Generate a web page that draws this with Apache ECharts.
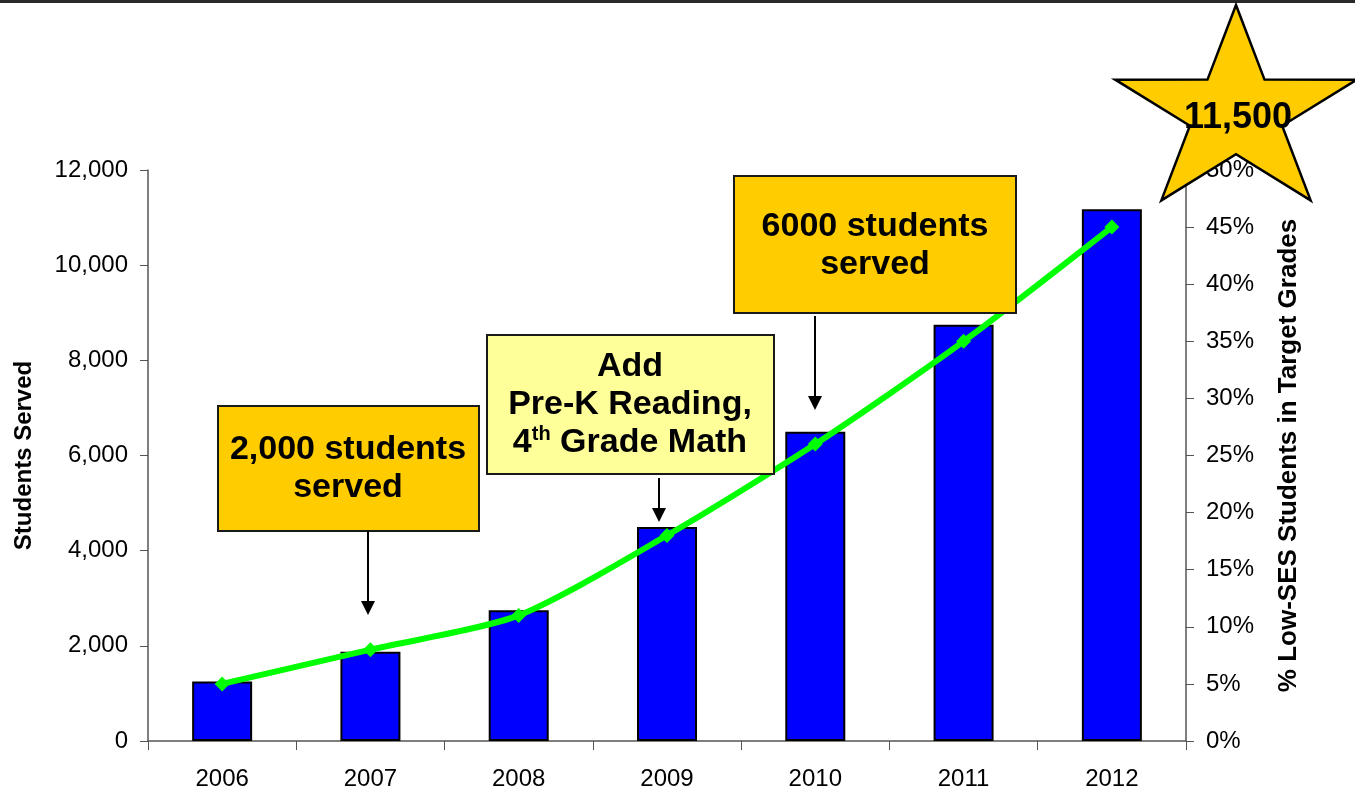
<!DOCTYPE html>
<html><head><meta charset="utf-8">
<script src="https://cdn.jsdelivr.net/npm/echarts@6/dist/echarts.min.js"></script>
<style>html,body{margin:0;padding:0;background:#fff}#c{width:1355px;height:793px}</style>
</head><body><div id="c"></div>
<script>
// ---- data ----
const years = ['2006', '2007', '2008', '2009', '2010', '2011', '2012'];
const studentsServed = [1250, 1875, 2750, 4500, 6500, 8750, 11175];
const lowSesPct = [5, 8, 11, 18, 26, 35, 45];
const leftAxisRange = [0, 12000, 2000];
const rightAxisRange = [0, 50, 5];
const leftAxisName = 'Students Served';
const rightAxisName = '% Low-SES Students in Target Grades';
const starLabel = '11,500';

const FONT = "'Liberation Sans', Arial, Helvetica, sans-serif";
const chart = echarts.init(document.getElementById('c'), null, { renderer: 'canvas' });

function starPoints(cx, cy, rx, ry, inner) {
  const pts = [];
  for (let i = 0; i < 10; i++) {
    const a = (-90 + i * 36) * Math.PI / 180;
    const r = i % 2 === 0 ? 1 : inner;
    pts.push([cx + rx * r * Math.cos(a), cy + ry * r * Math.sin(a)]);
  }
  return pts;
}

function box(x, y, w, h, fill) {
  return { type: 'rect', z: 50, shape: { x: x, y: y, width: w, height: h },
    style: { fill: fill, stroke: '#1a1a1a', lineWidth: 2 } };
}
function boxText(cx, cy, text, extra) {
  return { type: 'text', z: 51, x: cx, y: cy,
    style: Object.assign({ text: text, font: 'bold 34px ' + FONT, fill: '#000',
      align: 'center', verticalAlign: 'middle', lineHeight: 38 }, extra || {}) };
}
function arrow(x, y1, y2) {
  return [
    { type: 'line', z: 50, shape: { x1: x, y1: y1, x2: x, y2: y2 - 12 }, style: { stroke: '#000', lineWidth: 2 } },
    { type: 'polygon', z: 50, shape: { points: [[x - 7, y2 - 14], [x + 7, y2 - 14], [x, y2]] }, style: { fill: '#000' } }
  ];
}

const graphics = [
  { type: 'rect', z: 60, shape: { x: 0, y: 0, width: 1355, height: 3 }, style: { fill: '#2a2a2a' } },
  box(218, 406, 261, 125, '#FFCC00'),
  boxText(348, 469, '2,000 students\nserved'),
  ...arrow(368, 531, 615),
  box(487, 335, 287, 139, '#FFFF99'),
  boxText(630, 405, 'Add\nPre-K Reading,\n{b|4}{sup|th}{b| Grade Math}', {
    rich: {
      b: { font: 'bold 34px ' + FONT, fill: '#000', lineHeight: 38 },
      sup: { font: 'bold 20px ' + FONT, fill: '#000', lineHeight: 22, verticalAlign: 'top' }
    }
  }),
  ...arrow(659, 478, 522),
  box(734, 176, 282, 137, '#FFCC00'),
  boxText(875, 246, '6000 students\nserved', { textShadowColor: '#ffffff', textShadowOffsetX: 2, textShadowOffsetY: 2, textShadowBlur: 0 }),
  ...arrow(815, 316, 410),
  { type: 'polygon', z: 70, shape: { points: starPoints(1236, 113, 127, 108, 0.382) },
    style: { fill: '#FFCC00', stroke: '#000', lineWidth: 2.5 } },
  { type: 'text', z: 71, x: 1238, y: 118,
    style: { text: starLabel, font: 'bold 36px ' + FONT, fill: '#000', align: 'center', verticalAlign: 'middle' } }
];

const option = {
  animation: false,
  backgroundColor: '#ffffff',
  textStyle: { fontFamily: FONT },
  grid: { left: 148, right: 169, top: 170, bottom: 52, containLabel: false },
  xAxis: {
    type: 'category', data: years, boundaryGap: true,
    axisLine: { lineStyle: { color: '#555', width: 1.5 } },
    axisTick: { show: true, alignWithLabel: false, length: 9, lineStyle: { color: '#555' } },
    axisLabel: { color: '#000', fontSize: 24, margin: 26, fontFamily: FONT }
  },
  yAxis: [
    {
      type: 'value', min: leftAxisRange[0], max: leftAxisRange[1], interval: leftAxisRange[2],
      name: leftAxisName, nameLocation: 'middle', nameGap: 112,
      nameTextStyle: { fontSize: 24, fontWeight: 'bold', color: '#000', fontFamily: FONT },
      axisLine: { show: true, lineStyle: { color: '#555', width: 1.5 } },
      axisTick: { show: true, length: 8, lineStyle: { color: '#555' } },
      splitLine: { show: false },
      axisLabel: { color: '#000', fontSize: 24, margin: 20, fontFamily: FONT,
        formatter: v => v.toLocaleString('en-US') }
    },
    {
      type: 'value', position: 'right', min: rightAxisRange[0], max: rightAxisRange[1], interval: rightAxisRange[2],
      name: rightAxisName, nameLocation: 'middle', nameGap: 90, nameRotate: 90,
      nameTextStyle: { fontSize: 26, fontWeight: 'bold', color: '#000', fontFamily: FONT },
      axisLine: { show: true, lineStyle: { color: '#555', width: 1.5 } },
      axisTick: { show: true, length: 8, lineStyle: { color: '#555' } },
      splitLine: { show: false },
      axisLabel: { color: '#000', fontSize: 24, margin: 20, fontFamily: FONT, formatter: '{value}%' }
    }
  ],
  series: [
    {
      name: leftAxisName, type: 'bar', data: studentsServed, yAxisIndex: 0, barWidth: 60,
      itemStyle: { color: '#0000FF', borderColor: '#000', borderWidth: 2 }, z: 2
    },
    {
      name: rightAxisName, type: 'line', data: lowSesPct, yAxisIndex: 1, smooth: 0.25,
      symbol: 'diamond', symbolSize: 15, showSymbol: true,
      lineStyle: { color: '#00FF00', width: 6 }, itemStyle: { color: '#00FF00' }, z: 3
    }
  ],
  graphic: graphics
};
chart.setOption(option);
</script>
</body></html>
